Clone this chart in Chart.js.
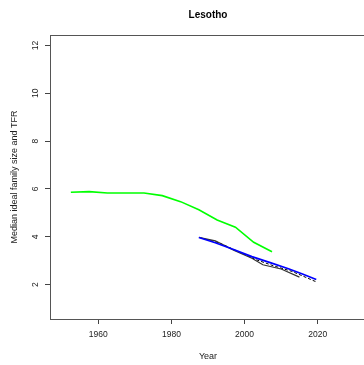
<!DOCTYPE html>
<html>
<head>
<meta charset="utf-8">
<script src="https://cdn.jsdelivr.net/npm/chart.js@4/dist/chart.umd.min.js"></script>
<style>
  html, body { margin: 0; padding: 0; background: #fff; overflow: hidden; }
  #wrap { position: relative; width: 370px; height: 365px; }
</style>
</head>
<body>
<div id="wrap"><canvas id="canvas"></canvas></div>
<script>
// UN TFR estimates (green), 5-year periods
let tfrYears  = [1952.5, 1957.5, 1962.5, 1967.5, 1972.5, 1977.5, 1982.5, 1987.5, 1992.5, 1997.5, 2002.5, 2007.5];
let tfrValues = [5.86, 5.89, 5.83, 5.83, 5.83, 5.72, 5.47, 5.13, 4.70, 4.40, 3.77, 3.37];

// blue line
let modelYears  = [1987.5, 1992, 1997, 2002, 2007, 2012, 2016, 2019.6];
let modelValues = [3.97, 3.75, 3.47, 3.17, 2.92, 2.66, 2.43, 2.21];

// black solid line
let surveyYears  = [1987.5, 1992, 1997, 2002, 2005, 2010, 2015];
let surveyValues = [3.98, 3.83, 3.44, 3.10, 2.83, 2.65, 2.31];

// black dashed line
let dashYears  = [1988, 1993, 1998, 2003, 2008, 2013, 2019.5];
let dashValues = [3.95, 3.75, 3.40, 3.05, 2.78, 2.55, 2.12];

let xTickValues = [1960, 1980, 2000, 2020];
let yTickValues = [2, 4, 6, 8, 10, 12];

let title = 'Lesotho';

function pts(xs, ys) {
  return xs.map((x, i) => ({ x: x, y: ys[i] }));
}

let boxPlugin = {
  id: 'box',
  afterDraw(chart) {
    let a = chart.chartArea;
    let ctx = chart.ctx;
    ctx.save();
    ctx.strokeStyle = '#555';
    ctx.lineWidth = 1;
    ctx.strokeRect(Math.round(a.left) + 0.5, Math.round(a.top) + 0.5,
                   Math.round(a.right - a.left), Math.round(a.bottom - a.top));
    ctx.restore();
  }
};

let font = 'Liberation Sans, Arial, Helvetica, sans-serif';

let options = {
  type: 'line',
  data: {
    datasets: [
      {
        data: pts(modelYears, modelValues),
        borderColor: '#0000ff',
        borderWidth: 1.7
      },
      {
        data: pts(surveyYears, surveyValues),
        borderColor: '#333333',
        borderWidth: 1.2
      },
      {
        data: pts(dashYears, dashValues),
        borderColor: '#000000',
        borderWidth: 1,
        borderDash: [3, 2]
      },
      {
        data: pts(tfrYears, tfrValues),
        borderColor: '#00ff00',
        borderWidth: 1.6
      }
    ]
  },
  options: {
    responsive: false,
    animation: false,
    elements: {
      point: { radius: 0 },
      line: { tension: 0, fill: false }
    },
    layout: { padding: { left: 0, right: 4, top: 0, bottom: 0 } },
    plugins: {
      legend: { display: false },
      tooltip: { enabled: false },
      title: {
        display: true,
        text: title,
        fullSize: false,
        color: '#000',
        font: { family: font, size: 10, weight: 'bold', lineHeight: 1.2 },
        padding: { top: 9, bottom: 14 }
      }
    },
    scales: {
      x: {
        type: 'linear',
        min: 1946.8,
        max: 2033.2,
        afterBuildTicks: s => { s.ticks = xTickValues.map(v => ({ value: v })); },
        afterFit: s => { s.height = 46; },
        grid: { drawOnChartArea: false, tickLength: 5, color: '#444' },
        border: { display: false },
        ticks: {
          color: '#222',
          padding: 6,
          maxRotation: 0,
          font: { family: font, size: 8.5 },
          callback: v => String(v)
        },
        title: {
          display: true,
          text: 'Year',
          color: '#222',
          font: { family: font, size: 9 },
          padding: { top: 2, bottom: 3 }
        }
      },
      y: {
        type: 'linear',
        min: 0.56,
        max: 12.44,
        afterBuildTicks: s => { s.ticks = yTickValues.map(v => ({ value: v })); },
        afterFit: s => { s.width = 50; },
        grid: { drawOnChartArea: false, tickLength: 5, color: '#444' },
        border: { display: false },
        ticks: {
          color: '#222',
          padding: 5,
          minRotation: 90,
          maxRotation: 90,
          crossAlign: 'center',
          font: { family: font, size: 8.5 },
          callback: v => String(v)
        },
        title: {
          display: true,
          text: 'Median ideal family size and TFR',
          color: '#222',
          font: { family: font, size: 9 },
          padding: { top: 9.6, bottom: 2 }
        }
      }
    }
  },
  plugins: [boxPlugin]
};

let canvas = document.getElementById('canvas');
canvas.width = 370;
canvas.height = 365;
let chart = new Chart(canvas, options);
</script>
</body>
</html>
